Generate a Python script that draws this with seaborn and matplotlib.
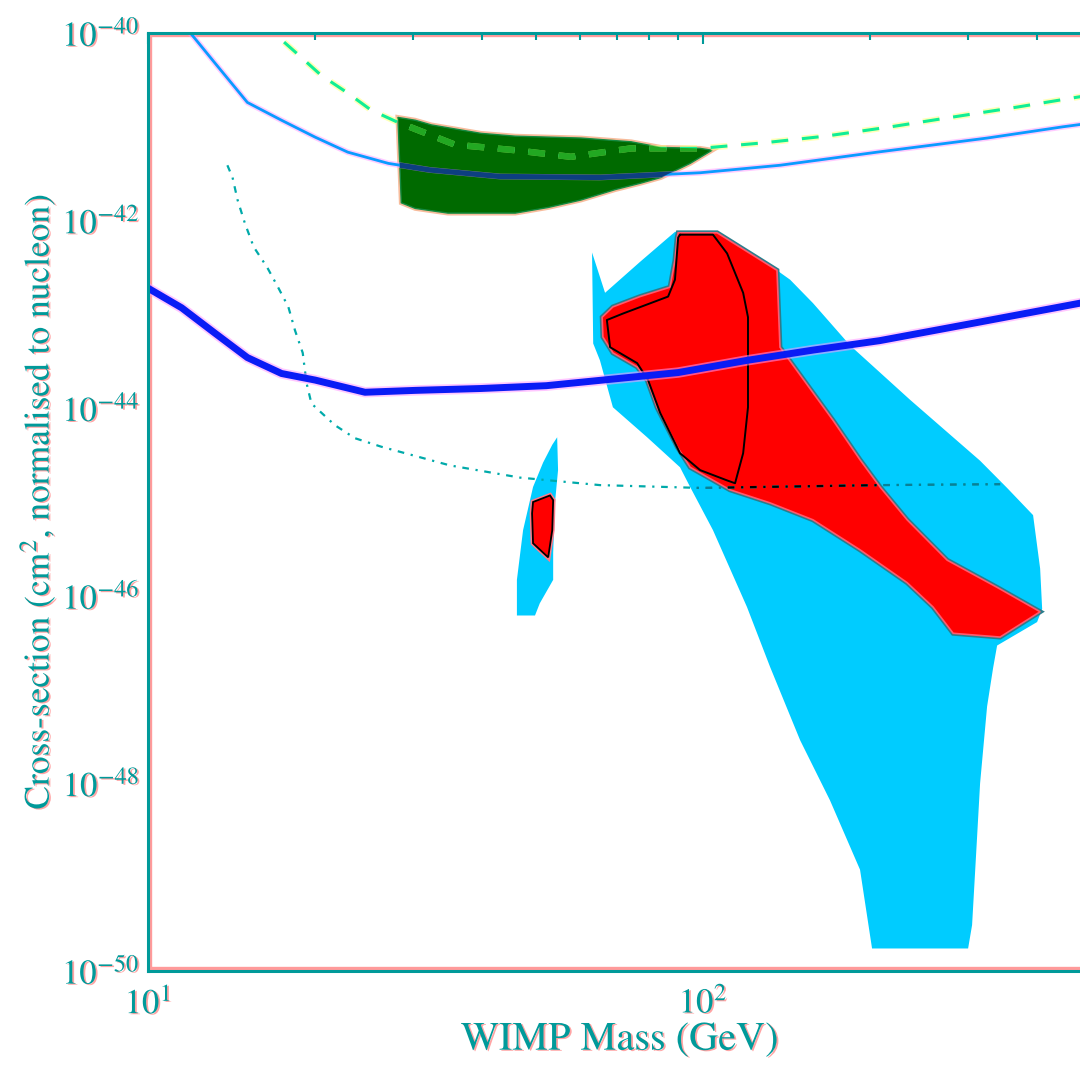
import numpy as np
import matplotlib
matplotlib.use("Agg")
import matplotlib.pyplot as plt
import matplotlib.patheffects as pe
from matplotlib.ticker import FixedLocator, FuncFormatter, NullFormatter
from matplotlib.patches import Rectangle
import seaborn as sns

sns.set_style("white")
plt.rcParams["font.family"] = ["STIXGeneral", "DejaVu Serif"]
plt.rcParams["mathtext.fontset"] = "stix"

# ---------------- data (mass in GeV, log10 of cross-section in cm^2) ----------------
thin_mass = [11.0, 12.0, 13.2, 15.1, 17.4, 20.0, 22.9, 27.1, 32.2, 43.1, 65.2, 98.8,
             137.6, 206, 325, 445, 500]
thin_logsig = [-39.77, -40.02, -40.32, -40.74, -40.93, -41.11, -41.27, -41.39, -41.46,
               -41.53, -41.54, -41.49, -41.41, -41.27, -41.12, -41.00, -40.96]

dashed_mass = [16.0, 17.15, 18.4, 20.5, 22.9, 25.2, 27.9, 35.7, 45.9, 57.8, 74.2, 98.8,
               129, 166, 218, 279, 368, 466, 500]
dashed_logsig = [-39.88, -40.04, -40.20, -40.45, -40.64, -40.82, -40.94, -41.19, -41.25,
                 -41.32, -41.23, -41.23, -41.17, -41.10, -41.00, -40.90, -40.79, -40.69, -40.66]

thick_mass = [10.0, 11.5, 13.2, 15.1, 17.4, 20.0, 24.6, 30.3, 39.8, 52.2, 74.2, 90.2,
              120, 158, 208, 316, 478, 500]
thick_logsig = [-42.72, -42.93, -43.20, -43.46, -43.63, -43.70, -43.83, -43.81, -43.79,
                -43.76, -43.67, -43.62, -43.49, -43.38, -43.28, -43.08, -42.88, -42.85]

dashdot_mass = [13.9, 14.2, 14.5, 14.95, 15.5, 16.4, 17.15, 17.9, 18.4, 19.0, 19.3, 19.7,
                21.7, 23.6, 26.3, 35.0, 46.8, 65.2, 98.8, 208, 343]
dashdot_logsig = [-41.41, -41.54, -41.78, -42.03, -42.28, -42.50, -42.71, -42.92, -43.17,
                  -43.41, -43.73, -43.95, -44.18, -44.32, -44.41, -44.61, -44.74, -44.82,
                  -44.85, -44.82, -44.81]

dama_mass = [28.2, 30.3, 32.4, 39.8, 45.9, 60.3, 74.2, 84.0, 98.8, 103.8, 94.8, 84.0,
             77.3, 69.4, 60.3, 52.6, 45.9, 34.7, 30.3, 28.6]
dama_logsig = [-40.90, -40.93, -40.98, -41.07, -41.10, -41.12, -41.16, -41.22, -41.23,
               -41.25, -41.39, -41.54, -41.60, -41.67, -41.78, -41.86, -41.92, -41.92,
               -41.87, -41.81]

cyan_mass = [63.1, 66.6, 77.0, 89.0, 105.1, 126.6, 143.5, 157.8, 184, 236, 315.6, 353,
             393.2, 404.9, 408.3, 399.8, 338.7, 333.1, 324.9, 315.6, 311.7, 305.3, 300.3,
             201.6, 191.8, 169.3, 149.6, 132.1, 120, 104.2, 94.8, 90.9, 79.3, 68.8, 65.2, 63.4]
cyan_logsig = [-42.34, -42.77, -42.44, -42.12, -42.12, -42.40, -42.63, -42.88, -43.33,
               -43.91, -44.56, -44.85, -45.14, -45.71, -46.14, -46.28, -46.53, -46.77,
               -47.18, -48.00, -48.57, -49.51, -49.76, -49.76, -48.92, -48.18, -47.54,
               -46.76, -46.12, -45.30, -44.84, -44.63, -44.31, -43.99, -43.49, -43.31]

cyan2_mass = [54.6, 54.8, 54.1, 53.7, 53.7, 50.8, 49.8, 46.2, 46.2, 47.4, 49.4, 51.5, 53.5]
cyan2_logsig = [-44.31, -44.66, -45.01, -45.54, -45.83, -46.08, -46.21, -46.21, -45.83,
                -45.30, -44.84, -44.58, -44.39]

red_mass = [90.2, 106, 135.9, 137.6, 171.5, 191.8, 208.4, 233.2, 275.3, 338.7, 404.9,
            342.9, 282.3, 259.7, 233.2, 191.8, 157.8, 132.1, 111.8, 94.8, 89.8, 82.6, 79.3,
            76.1, 68.8, 66.0, 65.8, 68.8, 77.0, 87.2, 89.0, 89.8]
red_logsig = [-42.13, -42.13, -42.53, -43.35, -44.13, -44.55, -44.84, -45.19, -45.62,
              -45.91, -46.17, -46.44, -46.40, -46.12, -45.86, -45.51, -45.19, -45.01,
              -44.87, -44.63, -44.41, -43.99, -43.70, -43.56, -43.41, -43.24, -43.03,
              -42.92, -42.81, -42.71, -42.42, -42.18]

red2_mass = [49.4, 53.0, 53.7, 53.5, 52.6, 51.5, 49.4, 49.2]
red2_logsig = [-45.00, -44.93, -44.98, -45.30, -45.59, -45.54, -45.44, -45.12]

contour_mass = [90.9, 104.2, 110.5, 118.1, 120.5, 120.5, 118.1, 114.2, 110.5, 98.8, 90.9,
                83.7, 79.6, 76.1, 68.0, 67.1, 71.8, 86.5, 89.0, 90.2, 90.9]
contour_logsig = [-42.15, -42.15, -42.35, -42.77, -43.03, -43.99, -44.48, -44.80, -44.77,
                  -44.66, -44.48, -44.05, -43.70, -43.52, -43.35, -43.06, -42.99, -42.81,
                  -42.63, -42.18, -42.15]

x_major = [10, 100]
x_minor = [20, 30, 40, 50, 60, 70, 80, 90, 200, 300, 400, 500]
y_major_exp = [-50, -48, -46, -44, -42, -40]
y_minor_exp = [-49, -47, -45, -43, -41]

x_label = "WIMP Mass (GeV)"
y_label = "Cross-section (cm$^2$, normalised to nucleon)"

# ---------------- styling ----------------
TEAL = "#009a9a"
PINK = "#ff9a9a"
sig = lambda a: np.power(10.0, np.asarray(a, dtype=float))

fig = plt.figure(figsize=(10.8, 10.67), dpi=100)
ax = fig.add_axes([148 / 1080, 96 / 1067, 943 / 1080, 938 / 1067])
ax.set_xscale("log")
ax.set_yscale("log")
ax.set_xlim(10, 500)
ax.set_ylim(1e-50, 1e-40)

# regions
cyan_patch = ax.fill(cyan_mass, sig(cyan_logsig), facecolor="#00ccff", edgecolor="none", zorder=1)[0]
cyan2_patch = ax.fill(cyan2_mass, sig(cyan2_logsig), facecolor="#00ccff", edgecolor="none", zorder=1)[0]
red_patch = ax.fill(red_mass, sig(red_logsig), facecolor="#ff0000", edgecolor="#ff5a6e", lw=1.2, zorder=2,
                    path_effects=[pe.Stroke(linewidth=3.5, foreground="#2b7d8c"), pe.Normal()])[0]
ax.fill(red2_mass, sig(red2_logsig), facecolor="#ff0000", edgecolor="black", lw=1.3, zorder=2,
        path_effects=[pe.Stroke(linewidth=3.5, foreground="#ff7a8a"), pe.Normal()])
green_patch = ax.fill(dama_mass, sig(dama_logsig), facecolor="#006a00", edgecolor="#138a40", lw=1.0, zorder=2,
                      path_effects=[pe.Stroke(linewidth=3.5, foreground="#f7bc9c"), pe.Normal()])[0]

sns.lineplot(x=contour_mass, y=sig(contour_logsig), sort=False, estimator=None, ax=ax,
             color="black", lw=1.4, zorder=3)

# dash-dot curve (colour follows background)
dd_style = (0, (3, 3, 1, 3))
sns.lineplot(x=dashdot_mass, y=sig(dashdot_logsig), sort=False, estimator=None, ax=ax,
             color="#00aaaa", lw=1.6, linestyle=dd_style, zorder=4)
l1, = ax.plot(dashdot_mass, sig(dashdot_logsig), color="#0a7f98", lw=1.6, linestyle=dd_style, zorder=4.1)
l1.set_clip_path(cyan_patch)
l2, = ax.plot(dashdot_mass, sig(dashdot_logsig), color="black", lw=1.6, linestyle=dd_style, zorder=4.2)
l2.set_clip_path(red_patch)

# thick blue curve
sns.lineplot(x=thick_mass, y=sig(thick_logsig), sort=False, estimator=None, ax=ax,
             color="#0a1cf5", lw=5, zorder=5,
             path_effects=[pe.Stroke(linewidth=7.5, foreground="#ff99ff", alpha=0.55), pe.Normal()])

# thin blue curve
sns.lineplot(x=thin_mass, y=sig(thin_logsig), sort=False, estimator=None, ax=ax,
             color="#0a9cff", lw=2, zorder=5,
             path_effects=[pe.Stroke(linewidth=4.2, foreground="#ff99ff", alpha=0.5), pe.Normal()])
l3, = ax.plot(thin_mass, sig(thin_logsig), color="#0d3f80", lw=3.8, zorder=5.1)
l3.set_clip_path(green_patch)

# green dashed curve
gd_style = (0, (5.5, 4.5))
sns.lineplot(x=dashed_mass, y=sig(dashed_logsig), sort=False, estimator=None, ax=ax,
             color="#10ee96", lw=2.2, linestyle=gd_style, zorder=6,
             path_effects=[pe.Stroke(linewidth=4.5, foreground="#ffff88", alpha=0.6), pe.Normal()])
l4, = ax.plot(dashed_mass, sig(dashed_logsig), color="#22a822", lw=4.6,
              linestyle=(0, (5.5 * 2.2 / 4.6, 4.5 * 2.2 / 4.6)), zorder=6.1)
l4.set_clip_path(green_patch)

# frame: teal outer line with pink inner band
ax.add_patch(Rectangle((0, 0), 1, 1, transform=ax.transAxes, fill=False,
                       edgecolor=PINK, lw=6, zorder=0.5))
for s in ax.spines.values():
    s.set_color(TEAL)
    s.set_linewidth(2.2)
    s.set_zorder(20)

# ticks
ax.xaxis.set_major_locator(FixedLocator(x_major))
ax.xaxis.set_minor_locator(FixedLocator(x_minor))
ax.yaxis.set_major_locator(FixedLocator([10.0 ** e for e in y_major_exp]))
ax.yaxis.set_minor_locator(FixedLocator([10.0 ** e for e in y_minor_exp]))
fmt = FuncFormatter(lambda v, p: r"$10^{%d}$" % int(round(np.log10(v))))
ax.xaxis.set_major_formatter(fmt)
ax.yaxis.set_major_formatter(fmt)
ax.xaxis.set_minor_formatter(NullFormatter())
ax.yaxis.set_minor_formatter(NullFormatter())
ax.tick_params(which="both", direction="in", top=True, right=True, color=TEAL,
               width=1.5, labelcolor=TEAL, labelsize=25)
ax.tick_params(which="major", length=8)
ax.tick_params(which="minor", length=5)
ax.tick_params(axis="y", pad=6)
ax.tick_params(axis="x", pad=12)
ax.grid(False)

shadow = [pe.withSimplePatchShadow(offset=(1.3, -0.8), shadow_rgbFace=PINK, alpha=0.9)]
ax.set_xlabel(x_label, fontsize=29, color=TEAL, labelpad=0, path_effects=shadow)
ax.set_ylabel(y_label, fontsize=25.5, color=TEAL, labelpad=3, path_effects=shadow)

fig.canvas.draw()
for t in ax.get_xticklabels() + ax.get_yticklabels():
    t.set_path_effects(shadow)

fig.savefig("out.png", dpi=100, facecolor="white")
